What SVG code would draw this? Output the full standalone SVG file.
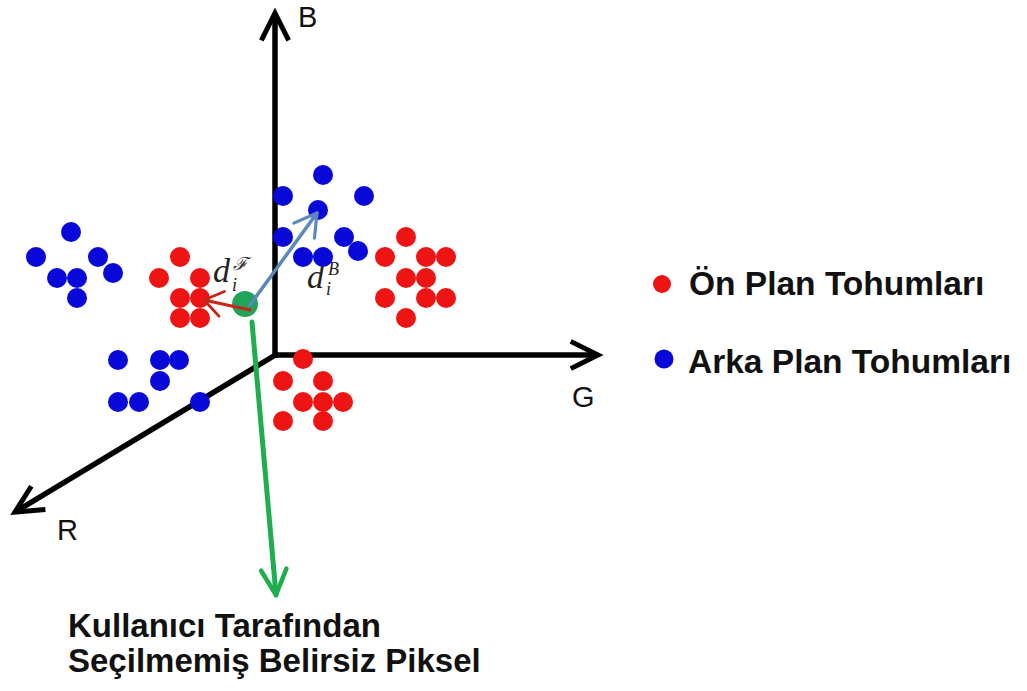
<svg xmlns="http://www.w3.org/2000/svg" width="1027" height="691" viewBox="0 0 1027 691">
  <style>
    .axis { stroke: #000; stroke-width: 5.5; fill: none; }
    .fg { fill: #ee1414; }
    .bg { fill: #0808d8; }
    .axlbl { font-family: "Liberation Sans", Arial, sans-serif; font-size: 29px; fill: #111; }
    .bold { font-family: "Liberation Sans", Arial, sans-serif; font-weight: bold; fill: #111; }
    .legend { font-size: 33.5px; }
    .caption { font-size: 33px; }
    .math { font-family: "Liberation Serif", "DejaVu Serif", serif; font-style: italic; fill: #222; }
  </style>
  <defs>
    <marker id="headBlack" markerUnits="userSpaceOnUse" markerWidth="40" markerHeight="40" viewBox="-40 -20 44 40" refX="0" refY="0" orient="auto" overflow="visible">
      <path d="M-30,-15 L0,0 L-30,15" fill="none" stroke="#000" stroke-width="5.5" stroke-linejoin="miter"/>
    </marker>
    <marker id="headGreen" markerUnits="userSpaceOnUse" markerWidth="40" markerHeight="40" viewBox="-40 -20 44 40" refX="0" refY="0" orient="auto" overflow="visible">
      <path d="M-28,-14 L0,0 L-28,14" fill="none" stroke="#1fae4f" stroke-width="5" stroke-linejoin="round" stroke-linecap="round"/>
    </marker>
    <marker id="headBlue" markerUnits="userSpaceOnUse" markerWidth="40" markerHeight="40" viewBox="-40 -20 44 40" refX="0" refY="0" orient="auto" overflow="visible">
      <path d="M-24,-14 L0,0 L-24,14" fill="none" stroke="#5b87b9" stroke-width="3.5" stroke-linejoin="round" stroke-linecap="round"/>
    </marker>
    <marker id="headRed" markerUnits="userSpaceOnUse" markerWidth="40" markerHeight="40" viewBox="-40 -20 44 40" refX="0" refY="0" orient="auto" overflow="visible">
      <path d="M-20,-14 L0,0 L-20,14" fill="none" stroke="#c8231b" stroke-width="3" stroke-linejoin="round" stroke-linecap="round"/>
    </marker>
  </defs>

  <rect width="1027" height="691" fill="#fff"/>

  <!-- RGB axes -->
  <g id="axes">
    <line class="axis" x1="275" y1="358" x2="275" y2="13" marker-end="url(#headBlack)"/>
    <line class="axis" x1="273" y1="355" x2="598" y2="355" marker-end="url(#headBlack)"/>
    <line class="axis" x1="277" y1="354" x2="15" y2="512" marker-end="url(#headBlack)"/>
    <text class="axlbl" x="298" y="27">B</text>
    <text class="axlbl" x="572" y="407">G</text>
    <text class="axlbl" x="57" y="540">R</text>
  </g>

  <!-- distance labels -->
  <g id="labels">
    <text class="math" x="213" y="282" font-size="34">d</text>
    <text class="math" x="233" y="270" font-size="18">ℱ</text>
    <text class="math" x="232" y="291" font-size="18">i</text>
    <text class="math" x="307" y="288" font-size="34">d</text>
    <text class="math" x="328" y="275" font-size="18">B</text>
    <text class="math" x="326" y="295" font-size="18">i</text>
  </g>

  <!-- background seeds (blue) -->
  <g id="background-seeds" class="bg">
    <circle cx="71" cy="232" r="10"/>
    <circle cx="36" cy="257" r="10"/>
    <circle cx="98" cy="257" r="10"/>
    <circle cx="57" cy="278" r="10"/>
    <circle cx="77" cy="278" r="10"/>
    <circle cx="113" cy="273" r="10"/>
    <circle cx="77" cy="298" r="10"/>

    <circle cx="323" cy="175" r="10"/>
    <circle cx="283" cy="196" r="10"/>
    <circle cx="364" cy="196" r="10"/>
    <circle cx="318" cy="210" r="10"/>
    <circle cx="283" cy="237" r="10"/>
    <circle cx="344" cy="237" r="10"/>
    <circle cx="358" cy="251" r="10"/>
    <circle cx="303" cy="257" r="10"/>
    <circle cx="323" cy="257" r="10"/>

    <circle cx="118" cy="360" r="10"/>
    <circle cx="160" cy="360" r="10"/>
    <circle cx="179" cy="360" r="10"/>
    <circle cx="160" cy="381" r="10"/>
    <circle cx="118" cy="402" r="10"/>
    <circle cx="139" cy="402" r="10"/>
    <circle cx="200" cy="402" r="10"/>
  </g>

  <!-- foreground seeds (red) -->
  <g id="foreground-seeds" class="fg">
    <circle cx="180" cy="257" r="10"/>
    <circle cx="159" cy="278" r="10"/>
    <circle cx="200" cy="278" r="10"/>
    <circle cx="180" cy="298" r="10"/>
    <circle cx="200" cy="298" r="10"/>
    <circle cx="180" cy="318" r="10"/>
    <circle cx="200" cy="318" r="10"/>

    <circle cx="406" cy="237" r="10"/>
    <circle cx="385" cy="257" r="10"/>
    <circle cx="426" cy="257" r="10"/>
    <circle cx="446" cy="257" r="10"/>
    <circle cx="406" cy="278" r="10"/>
    <circle cx="426" cy="278" r="10"/>
    <circle cx="385" cy="298" r="10"/>
    <circle cx="426" cy="298" r="10"/>
    <circle cx="446" cy="298" r="10"/>
    <circle cx="406" cy="318" r="10"/>

    <circle cx="303" cy="359" r="10"/>
    <circle cx="283" cy="381" r="10"/>
    <circle cx="323" cy="381" r="10"/>
    <circle cx="303" cy="402" r="10"/>
    <circle cx="323" cy="402" r="10"/>
    <circle cx="343" cy="402" r="10"/>
    <circle cx="283" cy="421" r="10"/>
    <circle cx="323" cy="421" r="10"/>
  </g>

  <!-- unlabeled pixel -->
  <g id="pixel">
    <circle cx="245" cy="304" r="13" fill="#22a35a"/>
  </g>

  <!-- distance vectors and pointer -->
  <g id="connectors" fill="none" stroke-linecap="round">
    <line x1="250" y1="310" x2="204" y2="300" stroke="#c8231b" stroke-width="3" marker-end="url(#headRed)"/>
    <line x1="250" y1="305" x2="317" y2="213" stroke="#5b87b9" stroke-width="3.5" marker-end="url(#headBlue)"/>
    <line x1="252" y1="322" x2="276" y2="595" stroke="#1fae4f" stroke-width="5" marker-end="url(#headGreen)"/>
  </g>

  <!-- legend -->
  <g id="legend">
    <circle cx="662" cy="284" r="9" class="fg"/>
    <text class="bold legend" x="689" y="295">Ön Plan Tohumları</text>
    <circle cx="664" cy="359" r="9.5" class="bg"/>
    <text class="bold legend" x="688" y="373">Arka Plan Tohumları</text>
  </g>

  <!-- caption -->
  <g id="caption">
    <text class="bold caption" x="68" y="637">Kullanıcı Tarafından</text>
    <text class="bold caption" x="68" y="672">Seçilmemiş Belirsiz Piksel</text>
  </g>
</svg>
